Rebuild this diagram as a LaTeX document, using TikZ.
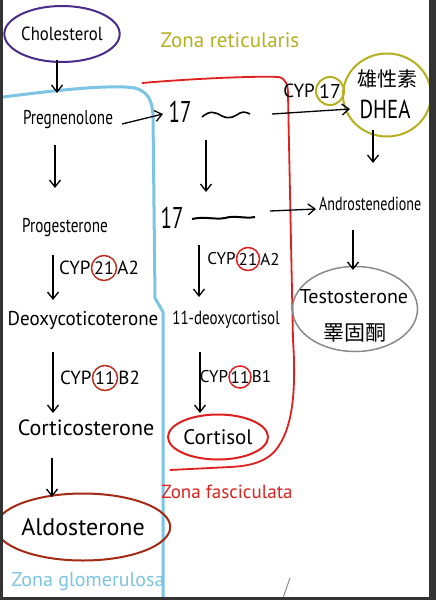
\documentclass[tikz,border=0pt]{standalone}
\usepackage{fontspec}
\setmainfont{PT Sans}
\newfontfamily\cjk{Noto Sans CJK TC}
\usetikzlibrary{arrows.meta,shapes.geometric,calc}
\newcommand{\fsz}[1]{\fontsize{#1}{#1}\selectfont}
\newcommand{\hw}[3]{\scalebox{#1}[1]{\fsz{#2}#3}}
\definecolor{purplec}{HTML}{4A2C8C}
\definecolor{bluec}{HTML}{7CC4E4}
\definecolor{redc}{HTML}{E0201E}
\definecolor{brownc}{HTML}{A52A14}
\definecolor{cirlc}{HTML}{B8321E}
\definecolor{grayc}{HTML}{8A8A8A}
\definecolor{olivec}{HTML}{B5B01F}
\definecolor{framec}{HTML}{333333}
\begin{document}
\begin{tikzpicture}[x=1pt,y=-1pt,
  arr/.style={-{Straight Barb[length=7pt,width=11pt]},line width=1.3pt},
  cyp/.style={inner sep=0pt,font=\fsz{19}},
  cypm/.style={inner sep=0pt,font=\fsz{17}},
  ring/.style={circle,draw=#1,line width=1.5pt,minimum size=25pt,inner sep=0pt,font=\fsz{18}},
  compound/.style={inner sep=1pt}]
\useasboundingbox (0,0) rectangle (436,600);
\fill[white] (0,0) rectangle (436,600);

% zone boundaries
\draw[bluec,line width=3pt] (3,97) .. controls (50,91) and (110,84) .. (135,88)
  .. controls (148,92) and (152,100) .. (153,115) -- (155,298) -- (163,312) -- (163,600);
\draw[redc,line width=1.8pt] (142,83) .. controls (200,78) and (260,76) .. (278,77)
  .. controls (286,78) and (288,85) .. (288,95) -- (293,340)
  .. controls (297,400) and (290,430) .. (278,447)
  .. controls (268,462) and (250,466) .. (230,467) -- (170,470);

% zone labels
\node[text=olivec] (zr) at (230,40) {\hw{1}{21}{Zona reticularis}};
\node[text=redc] (zf) at (227,492) {\hw{1}{19}{Zona fasciculata}};
\node[text=bluec] (zg) at (88,582) {\hw{1}{20}{Zona glomerulosa}};

% left column
\node[ellipse,draw=purplec,line width=2pt,minimum width=102pt,minimum height=56pt,inner sep=0pt] (chol) at (62,34) {\hw{0.88}{19}{Cholesterol}};
\node[compound] (preg) at (68,120) {\hw{0.76}{20}{Pregnenolone}};
\node[compound] (prog) at (65,228) {\hw{0.76}{20}{Progesterone}};
\node[compound] (deoxy) at (83,320) {\hw{0.95}{20}{Deoxycoticoterone}};
\node[compound] (cortico) at (86,428) {\hw{1}{22}{Corticosterone}};
\node[ellipse,draw=brownc,line width=2pt,minimum width=160pt,minimum height=67pt,inner sep=0pt] (aldo) at (83,527) {\hw{1}{24}{Aldosterone}};

\node[ring=cirlc] (la2) at (104,268) {21};
\node[cyp,anchor=east] (la1) at (la2.west) {CYP};
\node[cyp,anchor=west] (la3) at (la2.east) {A2};
\node[ring=cirlc] (lb2) at (105,378) {11};
\node[cyp,anchor=east] (lb1) at (lb2.west) {CYP};
\node[cyp,anchor=west] (lb3) at (lb2.east) {B2};

% middle column
\node[compound] (r17a) at (180,112) {\hw{0.7}{30}{17}};
\draw[line width=1.6pt] (202,117) .. controls (210,110) and (215,112) .. (222,116)
  .. controls (230,120) and (235,116) .. (240,113) .. controls (244,111) and (248,113) .. (250,114);
\coordinate (w1e) at (272,114);
\node[compound] (r17b) at (172,218) {\hw{0.7}{30}{17}};
\draw[line width=2pt] (192,219) .. controls (205,216) and (215,220) .. (225,218)
  .. controls (235,215) and (245,219) .. (255,217);
\coordinate (w2e) at (270,211);
\node[compound] (dc) at (226,320) {\hw{0.79}{19}{11-deoxycortisol}};
\node[ellipse,draw=redc,line width=2pt,minimum width=100pt,minimum height=45pt,inner sep=0pt] (cortisol) at (218,437) {\hw{1}{21}{Cortisol}};

\node[ring=redc,minimum size=23pt,font=\fsz{17}] (ma2) at (248,259) {21};
\node[cypm,anchor=east] (ma1) at (ma2.west) {CYP};
\node[cypm,anchor=west] (ma3) at (ma2.east) {A2};
\node[ring=redc,minimum size=22pt,font=\fsz{17}] (mb2) at (240,377) {11};
\node[cypm,anchor=east] (mb1) at (mb2.west) {CYP};
\node[cypm,anchor=west] (mb3) at (mb2.east) {B1};

% right column
\node[ring=olivec,minimum size=28pt,line width=2pt,font=\fsz{20}] (c17) at (330,91) {17};
\node[cyp,anchor=east] (cy17) at (c17.west) {CYP};
\node[ellipse,draw=olivec,line width=2pt,minimum width=88pt,minimum height=83pt,inner sep=0pt] (dhea) at (387,95) {};
\node[inner sep=0pt] (dhea1) at (387,79) {\cjk\fsz{20}雄性素};
\node[inner sep=0pt] (dhea2) at (385,109) {\hw{0.8}{26}{DHEA}};
\node[compound,anchor=west] (andro) at (318,204) {\hw{0.74}{19}{Androstenedione}};
\node[ellipse,draw=grayc,line width=1.5pt,minimum width=125pt,minimum height=85pt,inner sep=0pt] (testo) at (355,309) {};
\node[inner sep=0pt] (testo1) at (354,297) {\hw{1}{20}{Testosterone}};
\node[inner sep=0pt] (testo2) at (355,333) {\cjk\fsz{21}睪固酮};

% arrows
\draw[arr] ([shift={(-5,26)}]chol.center) -- ([shift={(-11,-27)}]preg.center);
\draw[arr] ([shift={(54,4)}]preg.center) -- ([shift={(-17,2)}]r17a.center);
\draw[arr] ([shift={(-13,25)}]preg.center) -- ([shift={(-10,-40)}]prog.center);
\draw[arr] ([shift={(-12,27)}]prog.center) -- ([shift={(-30,-20)}]deoxy.center);
\draw[arr] ([shift={(-30,32)}]deoxy.center) -- ([shift={(-33,-15)}]cortico.center);
\draw[arr] ([shift={(-34,30)}]cortico.center) -- ([shift={(-31,-30)}]aldo.center);
\draw[arr] ([shift={(26,28)}]r17a.center) -- ([shift={(34,-26)}]r17b.center);
\draw[arr] ([shift={(27,27)}]r17b.center) -- ([shift={(-27,-23)}]dc.center);
\draw[arr] ([shift={(-26,32)}]dc.center) -- ([shift={(-18,-24)}]cortisol.center);
\draw[arr] (w1e) -- ([shift={(-37,14)}]dhea.center);
\draw[arr] (w2e) -- ([shift={(-2,5)}]andro.west);
\draw[arr] ([shift={(-14,35)}]dhea.center) -- ([shift={(55,-41)}]andro.west);
\draw[arr] ([shift={(35,26)}]andro.west) -- ([shift={(-2,-39)}]testo.center);

% stray stroke
\draw[grayc,line width=1pt] (283,598) -- (290,578);

% frame
\fill[framec] (0,0) rectangle (3,600);
\fill[framec] (429,0) rectangle (436,600);
\fill[framec] (0,597) rectangle (436,600);
\end{tikzpicture}
\end{document}
